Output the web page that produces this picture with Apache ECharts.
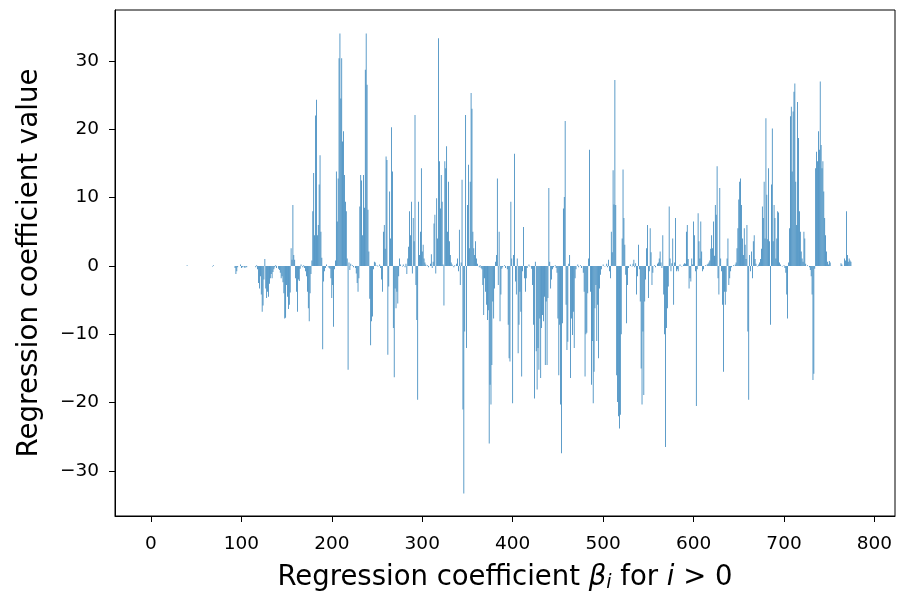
<!DOCTYPE html>
<html><head><meta charset="utf-8">
<script src="https://cdn.jsdelivr.net/npm/echarts@6/dist/echarts.min.js"></script>
<style>html,body{margin:0;padding:0;background:#fff}#c{width:899px;height:591px}</style>
</head><body><div id="c"></div>
<script>
// Regression coefficient values, index 0..783 (10 per row)
const coefValues = [
/*0*/   0,0,0,0,0,0,0,0,0,0,
/*10*/  0,0,0,0,0,0,0,0,0,0,
/*20*/  0,0,0,0,0,0,0,0,0,0,
/*30*/  0,0,0,0,0,0,0,0,0,0,
/*40*/  0.1,0,0,0,0,0,0,0,0,0,
/*50*/  0,0,0,0,0,0,0,0,0,0,
/*60*/  0,0,0,0,0,0,0,0,-0.1,0.1,
/*70*/  0,0,0,0,0,0,0,0,0,0,
/*80*/  0,0,0,0,0,0,0,0,0,0,
/*90*/  0,0,0,-0.3,-1.2,-0.8,-0.2,0,0,0.2,
/*100*/ -0.3,-0.2,0,-0.2,-0.3,-0.1,-0.2,0,0,0,
/*110*/ 0,0,0,0,0,0,-0.2,0.1,-0.5,-2.5,
/*120*/ -3.3,-1.5,-4.2,-6.7,-5.8,-2.0,1.0,-3.3,-4.7,-3.8,
/*130*/ -4.5,-2.6,-1.8,-1.2,-1.8,-0.9,-0.5,-0.2,0.1,-0.3,
/*140*/ 0,-0.4,-0.6,-1.0,-1.8,-1.5,-2.4,-4.0,-7.7,-7.6,
/*150*/ -2.8,-4.5,-6.3,-5.7,-3.9,2.6,0.9,8.9,1.6,0.9,
/*160*/ -1.8,-3.8,-6.7,-2.0,-2.2,-0.4,0.2,0,-0.2,0.1,
/*170*/ -0.3,-0.8,-1.5,-3.8,-6.2,-8.1,-4.0,-1.2,0.8,8.0,
/*180*/ 13.6,4.5,22.0,24.3,4.5,6.0,11.9,16.2,5.0,1.2,
/*190*/ -12.2,-2.3,-0.8,-0.3,0.2,0,-0.1,-0.3,-0.4,-1.8,
/*200*/ -4.7,-2.8,-8.9,-0.5,0.8,13.8,6.5,12.8,30.4,34.0,
/*210*/ 24.5,30.4,18.2,19.7,13.3,9.4,8.0,1.1,-15.2,0.5,
/*220*/ -0.6,0.3,0,0.1,-0.2,0,-0.3,-1.1,-2.5,-3.8,
/*230*/ -1.8,8.7,13.3,12.5,4.5,13.3,8.5,28.7,34.0,26.5,
/*240*/ 8.2,2.1,-4.8,-11.6,-8.1,-7.4,-0.5,0.6,0.5,0,
/*250*/ 0.1,-0.1,0,0.2,-0.3,-2.0,-3.8,5.0,6.0,2.5,
/*260*/ 16.0,15.5,-13.0,-3.0,10.9,4.0,20.3,13.8,-9.1,-16.3,
/*270*/ -3.3,-6.2,-3.8,-5.5,-1.5,1.1,0.2,0,-0.1,0.2,
/*280*/ 0,-0.2,0.3,-1.2,1.1,2.8,8.0,4.5,9.4,-1.1,
/*290*/ 7.0,3.6,22.1,-2.8,-7.9,-19.6,9.4,1.6,5.0,14.3,
/*300*/ 2.1,3.1,1.1,0.5,0.2,0,0.1,-0.2,0,0.3,
/*310*/ 1.7,-0.3,0.6,6.2,7.5,-1.1,9.9,4.0,33.3,15.3,
/*320*/ 8.4,13.3,9.4,0.2,-5.8,15.3,14.3,17.5,5.0,12.3,
/*330*/ 3.6,1.6,0.5,0.2,0,-0.2,0.1,0,0.3,1.1,
/*340*/ -0.8,5.3,-2.8,0.5,12.6,-21.0,-33.3,-9.6,22.1,-12.0,
/*350*/ 8.9,14.8,2.6,12.3,25.3,23.0,5.0,2.6,1.6,3.6,
/*360*/ 1.1,0.3,0,-0.2,0.1,-0.3,-0.5,-2.8,-7.2,-1.8,
/*370*/ -3.8,-5.7,-7.9,-6.5,-26.0,-17.4,-20.3,-14.5,-5.2,-7.7,
/*380*/ -3.3,0.6,1.6,12.8,-2.8,5.0,-8.1,-4.2,-0.4,-0.2,
/*390*/ 0,0.1,-0.3,0,-0.5,-8.6,-13.5,-14.0,9.4,1.1,
/*400*/ -20.1,1.6,16.4,-2.3,-4.2,1.1,-12.8,-8.6,-3.8,-6.7,
/*410*/ -16.2,-0.8,5.7,-1.8,-3.8,-1.8,-0.3,0,0.2,-0.1,
/*420*/ 0,-0.4,-2.8,-8.6,-19.4,0.6,-12.5,-18.1,-12.0,-15.2,
/*430*/ -7.7,-16.4,-9.1,-7.2,-8.1,-4.5,-14.5,-5.2,-14.5,-4.7,
/*440*/ 11.4,0.6,-3.3,-2.0,-0.5,-0.2,0,0.1,-0.3,-1.0,
/*450*/ -7.7,-16.0,-8.6,-20.3,-27.4,-8.4,8.4,10.1,21.2,-5.7,
/*460*/ -12.3,-11.1,0.3,1.6,-16.4,-7.7,-10.1,-6.7,-12.0,-1.8,
/*470*/ -0.5,0,0.2,-0.2,0,0.1,-0.3,0,-1.0,-3.8,
/*480*/ -16.2,-10.0,-9.8,-4.0,1.1,17.0,-3.8,-17.4,-11.0,-20.1,
/*490*/ -15.5,-6.2,-2.8,-11.0,-5.7,-13.5,-3.3,-1.3,-0.5,0,
/*500*/ 0.2,0,-0.1,0,0.3,-0.2,0.9,-0.8,-1.8,5.0,
/*510*/ 2.0,14.0,9.0,27.2,8.9,-16.0,-19.9,-22.0,-23.8,-21.8,
/*520*/ -10.0,4.0,14.1,7.0,3.1,-1.3,-8.4,-2.8,-0.3,0,
/*530*/ 0.2,0,-0.1,0.3,0.9,-0.2,0.4,-4.2,-1.5,3.1,
/*540*/ -0.5,-5.2,-15.0,-20.3,-9.6,-18.9,-5.2,-2.0,2.6,6.0,
/*550*/ -4.7,-0.8,5.5,2.0,-2.8,-1.0,0,0.1,-0.2,0,
/*560*/ 0.3,0.5,1.1,2.1,0.5,-0.3,4.5,-4.2,-10.0,-26.5,
/*570*/ -9.1,-6.2,-3.0,8.7,1.1,-0.8,0.4,4.0,-5.7,0.5,
/*580*/ 7.0,-0.8,-0.5,-0.8,0,0.2,0,-0.1,0,0.2,
/*590*/ 0.4,0.3,5.0,6.0,1.0,-3.3,-1.8,-2.3,1.1,0.2,
/*600*/ 6.5,4.5,-0.8,-20.5,-0.5,7.7,3.6,1.1,6.5,2.1,
/*610*/ -0.8,-0.5,0,0.1,0,0.2,0.3,0.5,0.8,2.5,
/*620*/ 4.5,2.6,6.5,1.5,8.9,7.5,14.6,-1.8,-4.2,11.4,
/*630*/ 1.1,-0.8,-5.7,-15.5,-3.8,-5.7,-3.8,1.1,4.0,-2.8,
/*640*/ -1.8,-0.8,-0.2,0,0.1,0,0.2,0.5,2.6,5.5,
/*650*/ 9.7,12.3,12.8,8.9,4.0,1.6,5.5,3.1,1.0,6.0,
/*660*/ -9.6,-19.6,1.6,-0.8,2.1,-1.8,3.6,4.5,1.0,0.3,
/*670*/ 0,-0.1,0.2,0.5,1.0,2.5,8.7,7.0,12.3,4.0,
/*680*/ 21.6,10.4,3.9,14.3,3.6,-8.6,11.9,20.1,3.6,8.9,
/*690*/ 7.0,1.1,4.0,8.0,7.8,0.5,0.2,0,-0.1,0,
/*700*/ 0.1,-0.3,-1.0,-4.2,-7.7,0.5,5.5,21.9,23.3,13.8,
/*710*/ 22.6,25.5,26.7,12.3,6.0,24.0,18.7,8.0,5.0,2.1,
/*720*/ 1.1,0.6,5.0,4.0,0.3,0,0.1,0,-0.2,-0.6,
/*730*/ -1.5,-4.2,-16.7,-15.8,-0.4,14.3,16.7,15.3,19.7,17.0,
/*740*/ 27.0,17.7,14.3,15.3,10.9,7.0,4.5,2.1,0.6,0.2,
/*750*/ 0.7,0.5,0,0,0,0,0,0,0,0,
/*760*/ 0,0,0,0.4,0.2,0,0,1.1,0.8,8.0,
/*770*/ 1.6,0.6,1.1,0.8,0.6,0,0,0,0,0,
/*780*/ 0,0,0,0
];
const xTicks = [0, 100, 200, 300, 400, 500, 600, 700, 800];
const yTicks = [-30, -20, -10, 0, 10, 20, 30];
const xTitle = 'Regression coefficient {it|β}{sub|i} for {it|i} > 0';
const yTitle = 'Regression coefficient value';

const barData = coefValues.map((v, i) => [i, v]);
const fmt = v => (v < 0 ? '\u2212' + Math.abs(v) : String(v));
const FONT = 'DejaVu Sans';

const chart = echarts.init(document.getElementById('c'), null, { renderer: 'canvas' });
chart.setOption({
  animation: false,
  backgroundColor: '#fff',
  grid: { left: 115, top: 10, width: 780, height: 506, show: true, borderColor: '#000', borderWidth: 1,
          containLabel: false, outerBoundsMode: 'none' },
  xAxis: {
    type: 'value', min: -39.7, max: 822.7,
    splitLine: { show: false },
    axisLine: { onZero: false, lineStyle: { color: '#000', width: 1 } },
    axisTick: { customValues: xTicks, length: 6, lineStyle: { color: '#000' } },
    axisLabel: { customValues: xTicks, color: '#000', fontSize: 18.5, fontFamily: FONT, margin: 19, formatter: fmt },
    name: xTitle, nameLocation: 'middle', nameGap: 46,
    nameTextStyle: {
      color: '#000', fontSize: 27.5, fontFamily: FONT,
      rich: {
        it: { fontStyle: 'italic', fontSize: 27.5, fontFamily: FONT, color: '#000' },
        sub: { fontStyle: 'italic', fontSize: 19, fontFamily: FONT, color: '#000', verticalAlign: 'bottom', padding: [12, 0, 0, 0] }
      }
    }
  },
  yAxis: {
    type: 'value', min: -36.6, max: 37.45,
    splitLine: { show: false },
    axisLine: { onZero: false, lineStyle: { color: '#000', width: 1 } },
    axisTick: { customValues: yTicks, length: 6, lineStyle: { color: '#000' } },
    axisLabel: { customValues: yTicks, color: '#000', fontSize: 18.5, fontFamily: FONT, margin: 16, formatter: fmt },
    name: yTitle, nameLocation: 'middle', nameGap: 71, nameRotate: 90,
    nameTextStyle: { color: '#000', fontSize: 27.7, fontFamily: FONT }
  },
  series: [{
    type: 'bar', data: barData, barWidth: 0.72, barMinWidth: 0.72,
    itemStyle: { color: '#1f77b4' }
  }]
});
</script></body></html>
